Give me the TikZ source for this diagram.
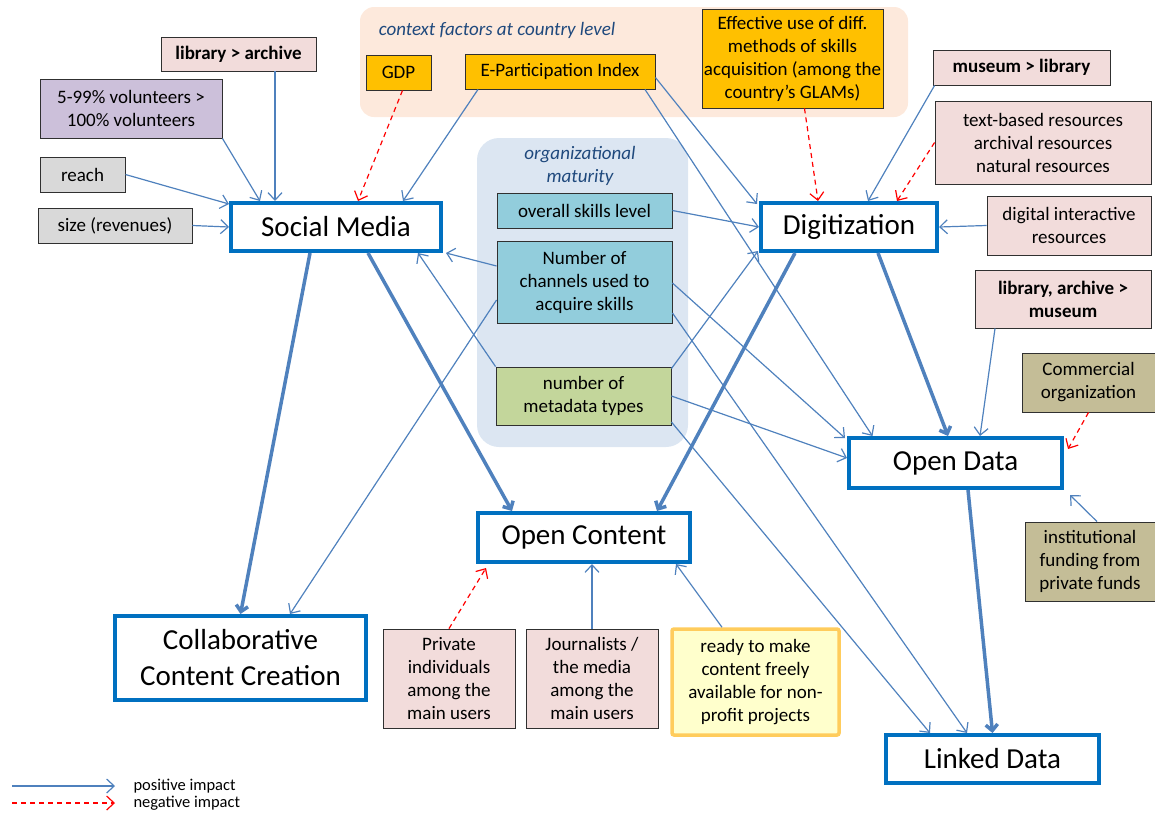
\documentclass[tikz,border=0pt]{standalone}
\usepackage{fontspec}
\setmainfont{Carlito}
\usetikzlibrary{arrows.meta}
\definecolor{posblue}{HTML}{4F81BD}
\definecolor{mainblue}{HTML}{0070C0}
\definecolor{pinkf}{HTML}{F2DCDB}
\definecolor{lavf}{HTML}{CCC0DA}
\definecolor{greyf}{HTML}{D9D9D9}
\definecolor{goldf}{HTML}{FFC000}
\definecolor{tealf}{HTML}{92CDDC}
\definecolor{greenf}{HTML}{C3D69B}
\definecolor{tanf}{HTML}{C4BD97}
\definecolor{peachbg}{HTML}{FDE9DC}
\definecolor{bluebg}{HTML}{DCE6F2}
\definecolor{readyf}{HTML}{FFFFCC}
\definecolor{readyb}{HTML}{FFCC5C}
\definecolor{titlec}{HTML}{1F497D}
\definecolor{boxb}{HTML}{303030}
\begin{document}
\begin{tikzpicture}[x=1pt,y=-1pt,
  sbox/.style={draw=boxb, line width=0.9pt, align=center, inner sep=1pt,
    font=\fontsize{19}{23}\selectfont, text=black},
  mainbox/.style={draw=mainblue, line width=4pt, fill=white, align=center,
    inner sep=1pt, font=\fontsize{29}{36}\selectfont},
  ttl/.style={align=center, text=titlec, font=\fontsize{19}{23}\selectfont\itshape},
  posarrow/.style={draw=posblue, line width=1.2pt, -{Straight Barb[length=7.5pt,width=14pt]}},
  negarrow/.style={draw=red, line width=1.2pt, dash pattern=on 5pt off 4pt, -{Straight Barb[length=7.5pt,width=14pt]}},
  thickarrow/.style={draw=posblue, line width=3.5pt, -{Straight Barb[length=6pt,width=12pt]}},
  legtext/.style={anchor=west, font=\fontsize{16.5}{19}\selectfont}
]
\useasboundingbox (0,0) rectangle (1155,815);
% backgrounds
\fill[peachbg, rounded corners=14pt] (360,7) rectangle (908,117);
\fill[bluebg, rounded corners=22pt] (477,138) rectangle (688,447);
\node[ttl] (ctxt) at (497,30) {context factors at country level};
\node[ttl] (orgt) at (580,166) {organizational\\maturity};
% nodes
\node[sbox, fill=pinkf, minimum width=155pt, minimum height=34pt, font=\fontsize{19}{23}\selectfont\bfseries] (lib) at (238.5,54) {library > archive};
\node[sbox, fill=lavf, minimum width=182pt, minimum height=59pt] (vol) at (131,108.5) {5-99\% volunteers >\\100\% volunteers};
\node[sbox, fill=greyf, minimum width=85pt, minimum height=35pt] (reach) at (82.5,174.5) {reach};
\node[sbox, fill=greyf, minimum width=154pt, minimum height=35pt] (size) at (115,225.5) {size (revenues)};
\node[mainbox, minimum width=210pt, minimum height=48pt] (sm) at (336,227) {Social Media};
\node[sbox, fill=goldf, minimum width=65pt, minimum height=35pt] (gdp) at (398.5,72.5) {GDP};
\node[sbox, fill=goldf, minimum width=190pt, minimum height=35pt] (epi) at (560,71.5) {E-Participation Index};
\node[sbox, fill=goldf, minimum width=181pt, minimum height=99pt] (eff) at (792.5,58.5) {Effective use of diff.\\methods of skills\\acquisition (among the\\country’s GLAMs)};
\node[sbox, fill=tealf, minimum width=175pt, minimum height=35pt] (osl) at (584.5,210.5) {overall skills level};
\node[sbox, fill=tealf, minimum width=175pt, minimum height=82pt] (ch) at (584.5,282) {Number of\\channels used to\\acquire skills};
\node[sbox, fill=greenf, minimum width=175pt, minimum height=58pt] (md) at (583.5,396) {number of\\metadata types};
\node[mainbox, minimum width=176pt, minimum height=48pt] (dig) at (849,227) {Digitization};
\node[sbox, fill=pinkf, minimum width=177pt, minimum height=35pt, font=\fontsize{19}{23}\selectfont\bfseries] (mus) at (1021.5,67.5) {museum > library};
\node[sbox, fill=pinkf, minimum width=216pt, minimum height=83pt] (tb) at (1043,142.5) {text-based resources\\archival resources\\natural resources};
\node[sbox, fill=pinkf, minimum width=164pt, minimum height=59pt] (di) at (1069,225.5) {digital interactive\\resources};
\node[sbox, fill=pinkf, minimum width=176pt, minimum height=58pt, font=\fontsize{19}{23}\selectfont\bfseries] (lam) at (1063,299) {library, archive >\\museum};
\node[sbox, fill=tanf, minimum width=133pt, minimum height=59pt] (co) at (1088.5,382.5) {Commercial\\organization};
\node[mainbox, minimum width=213pt, minimum height=50pt] (od) at (955.5,463) {Open Data};
\node[sbox, fill=tanf, minimum width=130pt, minimum height=79pt] (inf) at (1090,561.5) {institutional\\funding from\\private funds};
\node[mainbox, minimum width=212pt, minimum height=49pt] (oc) at (584,537.5) {Open Content};
\node[mainbox, minimum width=251pt, minimum height=84pt] (ccc) at (240.5,658) {Collaborative\\Content Creation};
\node[sbox, fill=pinkf, minimum width=132pt, minimum height=99pt] (pi) at (449,678.5) {Private\\individuals\\among the\\main users};
\node[sbox, fill=pinkf, minimum width=132pt, minimum height=99pt] (jo) at (592,678.5) {Journalists /\\the media\\among the\\main users};
\node[sbox, draw=readyb, line width=3.5pt, rounded corners=2pt, fill=readyf, minimum width=167pt, minimum height=106pt] (rd) at (755.5,682) {ready to make\\content freely\\available for non-\\profit projects};
\node[mainbox, minimum width=213pt, minimum height=48pt] (ld) at (992.5,759) {Linked Data};
% legend
\coordinate (la1) at (12,786);
\coordinate (lb1) at (115,786);
\coordinate (la2) at (12,803);
\coordinate (lb2) at (115,803);
\draw[posarrow] (la1) -- (lb1);
\draw[negarrow] (la2) -- (lb2);
\node[legtext] (lt1) at (130,786) {positive impact};
\node[legtext] (lt2) at (130,803) {negative impact};
% connectors into Social Media
\draw[posarrow] ([xshift=36.5pt]lib.south) -- ([xshift=-61pt]sm.north);
\draw[posarrow] (vol.south east) -- ([xshift=-76pt]sm.north);
\draw[posarrow] (reach.east) -- ([yshift=-3pt]sm.north west);
\draw[posarrow] (size.east) -- (sm.west);
\draw[negarrow] ([xshift=4pt]gdp.south) -- ([xshift=22pt]sm.north);
\draw[posarrow] ([xshift=-82pt]epi.south) -- ([xshift=67pt]sm.north);
\draw[posarrow] ([yshift=16pt]ch.west) -- ([xshift=3pt]sm.south east);
\draw[posarrow] (md.north west) -- ([xshift=82pt]sm.south);
% into Digitization
\draw[posarrow] ([yshift=-6pt]epi.east) -- ([xshift=-2pt,yshift=-3pt]dig.north west);
\draw[negarrow] ([xshift=12pt]eff.south) -- ([xshift=-31pt]dig.north);
\draw[posarrow] ([xshift=2pt]mus.south west) -- ([xshift=19pt]dig.north);
\draw[negarrow] (tb.west) -- ([xshift=48pt]dig.north);
\draw[posarrow] (di.west) -- (dig.east);
\draw[posarrow] (osl.east) -- (dig.west);
\draw[posarrow] ([yshift=-2pt]md.north east) -- ([xshift=-1pt,yshift=2pt]dig.south west);
% into Open Data
\draw[posarrow] ([xshift=85pt]epi.south) -- ([xshift=-83pt]od.north);
\draw[posarrow] ([yshift=-1pt]ch.east) -- ([xshift=-2pt,yshift=-2pt]od.north west);
\draw[posarrow] (md.east) -- ([yshift=5pt]od.west);
\draw[negarrow] (co.south) -- ([xshift=4pt,yshift=14pt]od.east);
\draw[posarrow] ([xshift=7pt]inf.north) -- ([xshift=6pt,yshift=-5pt]od.south east);
\draw[posarrow] ([xshift=-68pt]lam.south) -- ([xshift=24.5pt]od.north);
% into Linked Data
\draw[posarrow] ([yshift=-31pt]ch.east) -- ([xshift=-25.5pt]ld.north);
\draw[posarrow] ([yshift=-26pt]md.east) -- ([xshift=-62.5pt]ld.north);
% into CCC
\draw[posarrow] ([yshift=-18pt]ch.west) -- ([xshift=49.5pt]ccc.north);
% thick arrows
\draw[thickarrow] ([xshift=-26pt]sm.south) -- (ccc.north);
\draw[thickarrow] ([xshift=32pt]sm.south) -- ([xshift=-72pt]oc.north);
\draw[thickarrow] ([xshift=-54pt]dig.south) -- ([xshift=73pt]oc.north);
\draw[thickarrow] ([xshift=29pt]dig.south) -- ([xshift=-7.5pt]od.north);
\draw[thickarrow] ([xshift=12.5pt]od.south) -- (ld.north);
% into Open Content
\draw[negarrow] (pi.north) -- ([xshift=10pt,yshift=-4pt]oc.south west);
\draw[posarrow] (jo.north) -- (jo.north |- oc.south);
\draw[posarrow] ([xshift=-33.5pt]rd.north) -- ([xshift=-16pt]oc.south east);
\end{tikzpicture}
\end{document}
